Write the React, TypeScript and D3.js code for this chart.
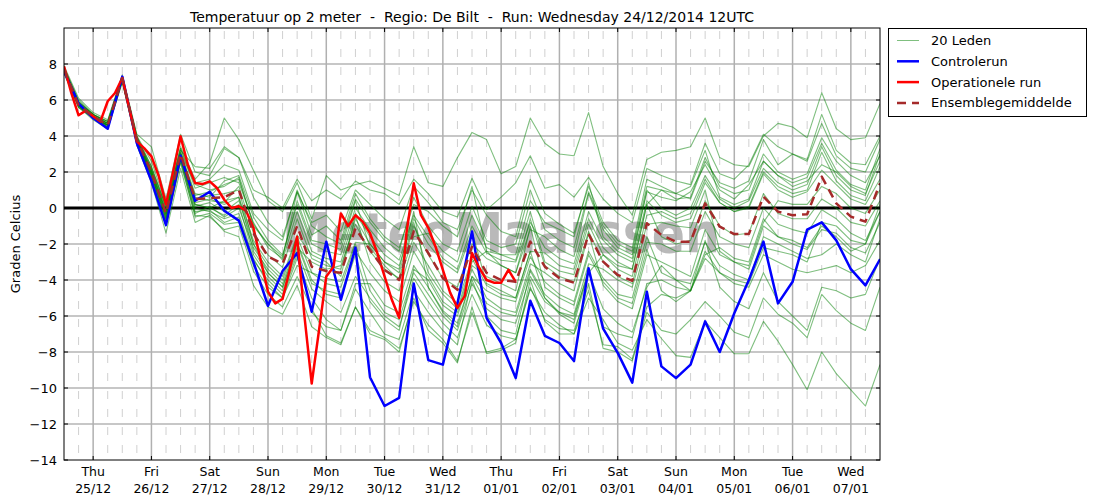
import React from 'react';
import * as d3 from 'd3';

const W = 1096;
const H = 504;
const M = { left: 64, right: 880, top: 28, bottom: 460 };

const title = 'Temperatuur op 2 meter  -  Regio: De Bilt  -  Run: Wednesday 24/12/2014 12UTC';
const yLabel = 'Graden Celcius';
const watermark = 'MeteoMaarssen';

// hours after the run (24/12 12UTC)
const hours6 = d3.range(0, 337, 6);
const hours3 = d3.range(0, 187, 3);

const dayNames = ['Thu', 'Fri', 'Sat', 'Sun', 'Mon', 'Tue', 'Wed', 'Thu', 'Fri', 'Sat', 'Sun', 'Mon', 'Tue', 'Wed'];
const dayDates = ['25/12', '26/12', '27/12', '28/12', '29/12', '30/12', '31/12', '01/01', '02/01', '03/01', '04/01', '05/01', '06/01', '07/01'];
const yTicks = [8, 6, 4, 2, 0, -2, -4, -6, -8, -10, -12, -14];

const controlRun = [7.6, 5.8, 5.0, 4.4, 7.3, 3.6, 1.5, -0.95, 2.9, 0.4, 0.9, -0.15, -0.7, -3.0, -5.43, -3.5, -2.5, -5.76, -1.87, -5.1, -2.2, -9.4, -11.0, -10.55, -4.2, -8.45, -8.7, -5.3, -1.3, -6.1, -7.5, -9.45, -5.15, -7.1, -7.5, -8.5, -3.35, -6.7, -8.05, -9.7, -4.65, -8.8, -9.45, -8.7, -6.3, -8.0, -5.85, -4.0, -1.87, -5.3, -4.1, -1.2, -0.8, -1.8, -3.4, -4.3, -2.85];

const operationalRun = [7.87, 6.4, 5.15, 5.41, 5.1, 4.81, 5.93, 6.39, 7.22, 5.46, 3.7, 3.33, 2.87, 1.78, 0.2, 2.05, 3.98, 2.4, 1.39, 1.33, 1.48, 1.11, 0.46, 0.0, 0.1, -0.17, -1.1, -2.9, -4.65, -5.3, -5.05, -3.4, -1.6, -6.0, -9.75, -6.8, -3.8, -3.26, -0.3, -1.0, -0.4, -0.76, -1.4, -2.5, -3.8, -5.1, -6.1, -1.4, 1.37, -0.4, -1.1, -2.15, -3.44, -4.7, -5.55, -4.9, -2.5, -3.33, -4.0, -4.15, -4.15, -3.44, -4.1];

const ensembleMean = [7.7, 5.7, 5.1, 4.6, 7.2, 3.8, 2.0, -0.3, 3.0, 0.5, 0.55, 0.6, 1.0, -1.4, -2.7, -3.1, -1.0, -3.26, -3.5, -3.6, -1.13, -2.33, -3.44, -4.0, -1.3, -2.5, -3.9, -4.55, -2.15, -3.6, -4.0, -4.1, -1.87, -3.26, -3.9, -4.15, -1.45, -2.98, -3.72, -4.04, -0.85, -1.5, -1.87, -1.87, 0.26, -1.04, -1.45, -1.45, 0.63, -0.2, -0.4, -0.35, 1.74, 0.26, -0.48, -0.76, 1.37];

const m01 = [7.8, 6.0, 5.2, 4.8, 7.3, 4.0, 2.6, 0.2, 3.4, 1.6, 2.5, 5.0, 3.8, 2.1, 0.4, -0.2, 1.4, -0.6, 1.8, 1.0, 1.3, 1.5, 1.1, 0.7, 3.4, 1.4, 1.2, 2.8, 4.2, 3.8, 1.9, 2.3, 5.0, 3.6, 3.0, 2.9, 5.3, 2.3, 0.8, -0.4, 2.7, 3.1, 3.2, 3.4, 5.0, 2.8, 2.4, 2.3, 4.0, 4.7, 4.5, 3.9, 6.4, 4.4, 3.8, 3.9, 5.8];
const m02 = [7.7, 5.9, 5.2, 4.7, 7.1, 3.9, 2.3, 0.0, 3.2, 2.3, 2.2, 3.4, 2.8, 1.0, 0.6, 0.0, 1.6, 0.4, 1.0, 0.5, 1.5, 1.0, 0.8, 0.2, 1.6, 0.8, -0.2, -0.5, 1.65, -0.1, 0.6, 1.4, 2.9, 1.1, 1.3, 0.6, 1.7, 0.5, -0.3, -0.8, 2.2, 1.8, 1.5, 1.3, 3.6, 1.9, 1.6, 2.4, 4.1, 3.4, 3.0, 2.7, 5.2, 3.2, 2.5, 2.4, 4.0];
const m03 = [7.6, 5.7, 5.0, 4.5, 7.1, 3.6, 1.8, -0.6, 2.8, 0.2, 0.0, -0.4, 0.2, -2.6, -3.8, -4.6, -2.4, -4.5, -5.2, -5.8, -3.8, -5.0, -6.0, -6.6, -3.9, -5.2, -6.4, -7.2, -4.8, -6.5, -7.1, -7.3, -4.5, -5.8, -6.5, -7.0, -5.0, -6.2, -7.5, -7.9, -6.2, -7.25, -8.2, -8.3, -6.3, -7.2, -8.1, -8.1, -6.3, -7.4, -8.7, -10.1, -8.0, -9.2, -10.1, -11.0, -8.7];
const m04 = [7.5, 5.6, 4.9, 4.4, 7.0, 3.5, 1.5, -1.0, 2.5, -0.4, -0.5, -1.2, -1.0, -3.5, -4.8, -5.5, -3.8, -5.6, -7.1, -7.5, -5.5, -6.8, -7.2, -7.8, -5.2, -6.5, -7.3, -8.5, -5.8, -8.0, -7.8, -7.3, -4.4, -6.2, -6.7, -6.8, -4.6, -7.6, -7.7, -8.4, -5.5, -4.8, -5.0, -4.6, -2.8, -3.6, -4.0, -4.2, -2.2, -2.4, -2.6, -3.0, -0.8, -1.0, -1.8, -2.0, 0.2];
const m05 = [7.6, 5.7, 5.0, 4.5, 7.1, 3.7, 1.7, -0.8, 2.7, 0.0, -0.2, -0.6, -0.3, -2.8, -4.2, -5.0, -2.8, -5.0, -6.2, -6.8, -4.5, -5.8, -7.0, -7.3, -4.6, -5.8, -6.8, -7.6, -4.0, -6.0, -6.8, -7.0, -3.5, -5.0, -5.9, -6.4, -3.6, -5.6, -6.4, -6.9, -4.4, -3.2, -4.0, -4.6, -1.8, -4.4, -5.2, -5.6, -3.6, -5.2, -6.0, -6.8, -4.4, -4.6, -5.0, -4.8, -2.8];
const m06 = [7.7, 5.8, 5.1, 4.7, 7.2, 3.9, 2.1, -0.2, 3.1, 0.8, 0.6, 1.5, 1.8, -0.5, -1.8, -2.6, 0.2, -2.0, -2.4, -2.6, 0.0, -1.2, -2.2, -2.9, -0.4, -1.6, -2.8, -3.4, -1.0, -2.5, -2.9, -3.0, -0.8, -2.2, -2.8, -3.1, -0.2, -1.8, -2.6, -3.0, 0.4, -0.4, -0.8, -0.6, 1.4, 0.3, -0.2, 0.1, 2.0, 1.2, 0.8, 1.0, 3.1, 1.5, 0.7, 0.4, 2.3];
const m07 = [7.6, 5.7, 5.1, 4.6, 7.2, 3.8, 1.9, -0.4, 2.9, 0.3, 0.5, 0.2, 0.6, -1.8, -3.0, -3.8, -1.5, -2.6, -3.0, -3.8, -0.4, -3.0, -4.1, -4.6, -1.9, -3.2, -4.6, -5.3, -2.8, -4.3, -4.8, -5.0, -2.4, -5.0, -5.8, -6.0, -3.6, -2.6, -3.2, -3.4, 0.2, -1.6, -2.0, -1.8, 0.4, -1.0, -1.5, -1.4, 0.8, -0.3, -0.6, -0.6, 0.5, 0.0, -0.8, -1.0, 0.4];
const m08 = [7.8, 5.9, 5.2, 4.8, 7.3, 3.9, 2.2, 0.1, 3.3, 1.1, 1.4, 1.7, 1.4, -0.8, -2.2, -2.8, 0.9, -1.5, -1.0, -1.8, 0.8, -0.6, -1.6, -2.2, 0.2, -0.2, -1.0, -1.6, 1.2, -2.4, -3.2, -3.6, -1.2, -1.6, -2.3, -2.7, 0.8, -1.2, -2.2, -2.6, 0.9, 0.6, 0.4, 0.9, 2.4, 1.0, 0.5, 1.3, 2.6, 1.8, 1.4, 1.7, 3.6, 2.1, 1.3, 1.0, 3.3];
const m09 = [7.6, 5.6, 5.0, 4.6, 7.1, 3.7, 1.8, -0.5, 2.8, -0.3, 0.1, -0.5, 0.0, -2.2, -3.4, -4.2, -1.9, -4.0, -4.8, -5.0, -2.6, -5.2, -6.2, -6.8, -3.4, -4.0, -5.4, -6.0, -3.4, -5.0, -5.6, -5.8, -3.1, -3.6, -4.2, -4.6, -1.4, -4.3, -5.2, -5.6, -2.6, -3.0, -3.4, -3.8, -1.2, -2.6, -3.0, -3.4, -1.0, -1.6, -1.8, -2.2, -1.0, -1.6, -2.4, -2.0, -0.2];
const m10 = [7.7, 5.8, 5.1, 4.7, 7.2, 3.8, 2.0, -0.3, 3.0, 0.6, 0.4, 0.3, 1.2, -1.4, -2.6, -3.3, -0.6, -2.8, -3.2, -3.4, -0.6, -2.0, -3.0, -3.6, -0.8, -3.6, -4.8, -5.6, -3.0, -2.4, -2.6, -2.9, -0.2, -3.0, -3.5, -3.7, -0.9, -2.6, -3.4, -3.8, -0.4, -0.2, -0.6, -0.3, 1.6, 0.3, -0.2, 0.0, 1.9, 1.0, 0.6, 0.9, 2.1, 1.3, 0.5, 0.2, 1.6];
const m11 = [7.9, 6.1, 5.3, 4.9, 7.4, 4.1, 3.4, 0.5, 4.1, 2.0, 1.8, 3.3, 2.8, 0.6, -0.8, -1.6, 0.9, -0.8, -0.4, -1.3, 1.0, 0.2, -0.6, -1.2, 1.2, 0.3, -0.8, -1.2, 1.0, -0.4, -1.3, -1.6, 1.6, -0.3, -0.9, -1.4, 1.2, -0.8, -1.8, -2.2, 1.6, 1.2, 0.8, 0.5, 2.6, 1.4, 1.1, 1.5, 3.8, 2.4, 3.0, 2.6, 4.7, 2.9, 2.2, 2.0, 3.8];
const m12 = [7.5, 5.6, 5.0, 4.4, 7.0, 3.5, 1.4, -1.4, 2.2, -0.8, -0.4, -1.3, -1.6, -4.3, -5.5, -5.9, -4.3, -6.6, -7.2, -7.6, -5.5, -7.0, -7.3, -8.0, -5.0, -6.8, -7.5, -8.6, -5.5, -8.1, -7.9, -7.5, -4.0, -6.3, -7.0, -7.0, -4.2, -7.8, -8.0, -8.5, -5.8, -6.8, -7.0, -6.2, -5.2, -6.0, -6.9, -7.2, -5.0, -5.9, -6.4, -7.2, -4.8, -5.7, -6.4, -6.8, -4.4];
const m13 = [7.7, 5.8, 5.2, 4.7, 7.2, 3.8, 2.1, -0.1, 3.1, 1.3, 1.0, 1.2, 1.7, -1.0, -2.0, -2.9, -0.2, -2.4, -2.8, -3.0, -0.3, -1.6, -2.6, -3.2, -0.6, -2.0, -3.0, -3.6, -1.3, -4.2, -4.6, -5.0, -2.4, -2.5, -3.2, -3.4, -0.6, -2.2, -3.0, -3.4, 0.2, 1.0, 0.8, 1.2, 3.2, 0.6, 0.2, 0.5, 2.6, 1.8, 1.2, 1.5, 2.4, 2.0, 1.2, 0.8, 2.6];
const m14 = [7.6, 5.7, 5.0, 4.6, 7.1, 3.7, 1.9, -0.4, 2.9, 0.1, 0.3, -0.2, 0.4, -2.0, -3.2, -4.0, -1.6, -3.6, -3.9, -4.1, -1.9, -2.0, -3.0, -3.4, -0.2, -4.4, -5.8, -6.6, -3.8, -4.6, -5.0, -5.2, -2.7, -4.1, -4.8, -5.2, -2.4, -3.9, -4.8, -5.0, -1.9, -2.0, -2.4, -2.4, -0.2, -1.6, -2.0, -2.2, 0.0, -0.9, -1.2, -1.4, -0.1, -0.6, -1.4, -1.8, -0.2];
const m15 = [7.7, 5.8, 5.1, 4.6, 7.2, 3.8, 2.0, -0.3, 3.0, 0.5, 0.7, 0.8, 1.0, -2.0, -3.6, -4.4, -2.2, -3.0, -3.4, -3.2, -0.9, -2.4, -3.4, -3.9, -1.0, -2.6, -3.9, -4.4, -2.0, -2.8, -3.2, -3.6, -0.6, -3.2, -3.8, -4.1, -1.3, -3.0, -3.8, -4.2, -0.9, -0.8, -1.0, -1.1, 1.0, -2.4, -3.0, -3.2, -0.8, 0.4, 0.2, 0.2, 1.2, 0.8, 0.0, -0.3, 1.0];
const m16 = [7.6, 5.7, 5.0, 4.5, 7.1, 3.6, 1.6, -0.9, 2.6, -0.5, -0.3, -0.9, -0.8, -3.2, -4.4, -5.0, -3.2, -3.6, -4.2, -4.4, -2.0, -4.6, -5.8, -6.2, -3.6, -4.8, -6.0, -6.8, -4.2, -5.6, -6.2, -6.4, -3.8, -5.2, -5.8, -6.2, -3.4, -6.6, -7.0, -7.2, -4.2, -4.0, -4.4, -4.6, -2.4, -3.6, -4.2, -4.4, -2.6, -3.0, -3.4, -3.6, -3.4, -3.2, -3.6, -3.2, -1.8];
const m17 = [7.8, 5.9, 5.2, 4.8, 7.3, 4.0, 2.3, 0.1, 3.3, 1.4, 1.6, 2.4, 2.1, -0.3, -1.2, -1.8, 1.0, -1.0, -1.6, -2.0, 0.5, -0.8, -1.8, -2.4, 0.6, -1.0, -2.0, -2.4, 0.1, -1.8, -2.2, -2.0, 1.0, -1.2, -1.8, -2.2, 0.9, -1.0, -2.0, -2.4, 1.2, 1.0, 0.5, 0.6, 2.8, 1.2, 0.8, 1.0, 3.0, 2.0, 1.6, 1.9, 3.9, 2.6, 1.8, 1.4, 2.9];
const m18 = [7.7, 5.7, 5.1, 4.6, 7.2, 3.8, 1.9, -0.6, 2.8, 0.2, 0.0, 0.4, 0.6, -2.4, -3.6, -4.4, -2.0, -4.2, -4.6, -4.8, -2.4, -3.6, -4.6, -5.2, -2.4, -3.8, -5.2, -5.8, -3.2, -3.8, -4.2, -4.6, -1.0, -4.4, -5.0, -5.4, -2.6, -4.1, -5.0, -5.3, -2.3, -4.6, -5.2, -4.6, -2.6, -2.2, -2.8, -3.0, -0.6, -1.6, -2.0, -2.3, -1.2, -1.4, -2.2, -2.5, -0.8];
const m19 = [7.7, 5.8, 5.1, 4.7, 7.2, 3.9, 2.1, -0.2, 3.0, 0.7, 0.9, 1.3, 1.6, -0.9, -2.0, -2.7, 0.4, -1.8, -2.0, -2.3, 0.4, -2.2, -3.2, -4.0, -1.6, -1.4, -2.4, -3.0, -0.4, -2.2, -2.6, -2.6, 0.4, -0.8, -1.2, -1.6, 1.4, -1.6, -2.4, -2.8, 1.0, 0.0, -0.4, 0.0, 1.8, 0.5, 0.0, 0.4, 2.2, 1.4, 1.0, 1.3, 3.4, 1.8, 1.0, 0.7, 3.0];
const m20 = [7.6, 5.7, 5.0, 4.6, 7.1, 3.7, 1.8, -0.7, 2.7, -0.2, -0.1, -0.8, -0.5, -2.9, -4.0, -4.8, -2.6, -5.8, -6.6, -6.8, -4.2, -4.2, -5.4, -5.8, -3.2, -4.4, -5.7, -6.4, -3.8, -5.3, -5.8, -6.0, -3.4, -4.8, -5.5, -5.9, -3.1, -3.4, -4.0, -4.4, -1.6, -3.6, -4.0, -4.2, -1.9, -3.2, -3.7, -4.0, -1.6, -2.0, -2.4, -2.8, -2.6, -2.0, -2.6, -3.0, -0.6];

const members = [m01, m02, m03, m04, m05, m06, m07, m08, m09, m10, m11, m12, m13, m14, m15, m16, m17, m18, m19, m20];

const FONT = '"DejaVu Sans", Verdana, sans-serif';

const App: React.FC = () => {
  const x = d3.scaleLinear().domain([0, 336]).range([M.left, M.right]);
  const y = d3.scaleLinear().domain([-14, 10]).range([M.bottom, M.top]);

  const line6 = d3.line<number>().x((_, i) => x(hours6[i])).y(d => y(d));
  const line3 = d3.line<number>().x((_, i) => x(hours3[i])).y(d => y(d));

  // grid: solid lines at 00UTC, dashed at the other 6-hourly steps
  const midnights = d3.range(12, 336, 24);
  const sixHourly = hours6.filter(h => h > 0 && h < 336 && (h - 12) % 24 !== 0);
  const hGrid = d3.range(-12, 10, 2).filter(v => v !== 0);

  const legendRows = [
    { label: '20 Leden', color: 'green', width: 1, opacity: 0.5, dash: undefined as string | undefined },
    { label: 'Controlerun', color: '#0000ff', width: 2.5, opacity: 1, dash: undefined },
    { label: 'Operationele run', color: '#ff0000', width: 2.5, opacity: 1, dash: undefined },
    { label: 'Ensemblegemiddelde', color: '#a52a2a', width: 2.5, opacity: 1, dash: '9,6' },
  ];

  return (
    <div style={{ position: 'absolute', left: 0, top: 0 }}>
      <svg width={W} height={H} style={{ display: 'block', background: '#fff' }} fontFamily={FONT}>
        <defs>
          <clipPath id="plot">
            <rect x={M.left} y={M.top} width={M.right - M.left} height={M.bottom - M.top} />
          </clipPath>
        </defs>

        <text x={(M.left + M.right) / 2} y={22} textAnchor="middle" fontSize={14} fill="#000"
          style={{ whiteSpace: 'pre' }}>{title}</text>

        {hGrid.map(v => (
          <line key={'h' + v} x1={M.left} x2={M.right} y1={y(v)} y2={y(v)} stroke="#b5b5b5" strokeWidth={1.3} />
        ))}
        {sixHourly.map(h => (
          <line key={'d' + h} x1={x(h)} x2={x(h)} y1={M.bottom} y2={M.top} stroke="#d0d0d0" strokeWidth={1}
            strokeDasharray="8,10" strokeDashoffset={11} />
        ))}
        {midnights.map(h => (
          <line key={'v' + h} x1={x(h)} x2={x(h)} y1={M.bottom} y2={M.top} stroke="#b0b0b0" strokeWidth={1.5} />
        ))}

        <text x={282} y={252} fontSize={56} fontWeight="bold" fill="#a8a8a8" opacity={0.8}
          textLength={438} lengthAdjust="spacingAndGlyphs">{watermark}</text>

        <line x1={M.left} x2={M.right} y1={y(0)} y2={y(0)} stroke="#000" strokeWidth={3} />

        <g clipPath="url(#plot)" fill="none" strokeLinejoin="round">
          {members.map((m, i) => (
            <path key={'m' + i} d={line6(m) || ''} stroke="green" strokeOpacity={0.5} strokeWidth={1.1} />
          ))}
          <path d={line6(controlRun) || ''} stroke="#0000ff" strokeWidth={2.5} />
          <path d={line3(operationalRun) || ''} stroke="#ff0000" strokeWidth={2.5} />
          <path d={line6(ensembleMean) || ''} stroke="#a52a2a" strokeWidth={2.5} strokeDasharray="9,6" />
        </g>

        <rect x={M.left} y={M.top} width={M.right - M.left} height={M.bottom - M.top} fill="none" stroke="#000" strokeWidth={1} />

        {yTicks.map(v => (
          <g key={'yt' + v}>
            <line x1={M.left} x2={M.left + 4} y1={y(v)} y2={y(v)} stroke="#000" />
            <line x1={M.right - 4} x2={M.right} y1={y(v)} y2={y(v)} stroke="#000" />
            <text x={M.left - 7} y={y(v)} dy="0.35em" textAnchor="end" fontSize={13} fill="#000">
              {v < 0 ? '\u2212' + Math.abs(v) : String(v)}
            </text>
          </g>
        ))}

        {midnights.map((h, i) => (
          <g key={'xt' + h}>
            <line x1={x(h)} x2={x(h)} y1={M.bottom} y2={M.bottom - 4} stroke="#000" />
            <line x1={x(h)} x2={x(h)} y1={M.top} y2={M.top + 4} stroke="#000" />
            <text x={x(h)} y={476} textAnchor="middle" fontSize={12.5} fill="#000">{dayNames[i]}</text>
            <text x={x(h)} y={493} textAnchor="middle" fontSize={12.5} fill="#000">{dayDates[i]}</text>
          </g>
        ))}

        <text transform={`translate(20, ${(M.top + M.bottom) / 2}) rotate(-90)`} textAnchor="middle" fontSize={13} fill="#000">{yLabel}</text>

        <g>
          <rect x={888.5} y={28.5} width={198} height={88} fill="#fff" stroke="#000" strokeWidth={1} />
          {legendRows.map((r, i) => (
            <g key={r.label} transform={`translate(0, ${40.5 + i * 20.8})`}>
              <line x1={897} x2={919} y1={0} y2={0} stroke={r.color} strokeWidth={r.width}
                strokeOpacity={r.opacity} strokeDasharray={r.dash} />
              <text x={931} y={0} dy="0.35em" fontSize={13} fill="#000">{r.label}</text>
            </g>
          ))}
        </g>
      </svg>
    </div>
  );
};

export default App;
